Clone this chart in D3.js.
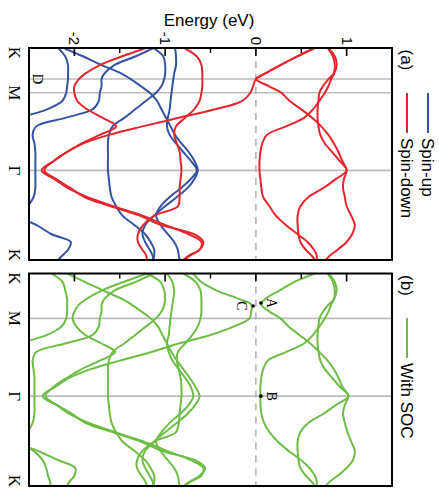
<!DOCTYPE html>
<html><head><meta charset="utf-8">
<script src="https://cdn.jsdelivr.net/npm/d3@7/dist/d3.min.js"></script>
<style>body{margin:0;background:#fff}svg{display:block}</style>
</head><body>
<svg id="c" width="439" height="489"></svg>
<script>
// k path (K-M-Γ-K, path length units)
const kPoints = [0, 0.577, 1.577, 2.732];
const kLabels = ["K", "M", "Γ", "K"];
const kD = 0.40;
const energyTicks = [-2, -1, 0, 1];
const energyMinor = [-1.5, -0.5, 0.5];
const kGrid = [0, 0.11, 0.22, 0.33, 0.40, 0.49, 0.577, 0.68, 0.79, 0.90, 1.01, 1.12, 1.23, 1.34, 1.45, 1.577, 1.69, 1.80, 1.92, 2.04, 2.16, 2.28, 2.40, 2.50, 2.60, 2.67, 2.732];

// panel (a) spin-down bands (eV)
const spinDown = [
  [0.65,0.45,0.27,0.10,0.0,0.14,0.28,0.37,0.50,0.62,0.72,0.80,0.86,0.91,0.95,1.0,0.97,0.96,0.98,1.0,1.05,1.09,1.06,1.0,0.90,0.82,0.77],
  [0.79,0.85,0.87,0.86,0.83,0.80,0.76,0.70,0.63,0.53,0.33,0.12,0.07,0.05,0.04,0.04,0.05,0.06,0.08,0.15,0.22,0.33,0.46,0.57,0.64,0.67,0.67],
  [0.80,0.87,0.89,0.86,0.80,0.74,0.70,0.69,0.68,0.68,0.69,0.71,0.76,0.84,0.92,1.0,0.88,0.75,0.58,0.49,0.46,0.46,0.47,0.49,0.55,0.61,0.65],
  [0.65,0.45,0.27,0.10,0.0,-0.03,-0.06,-0.15,-0.45,-0.85,-1.25,-1.62,-1.90,-2.08,-2.22,-2.36,-2.22,-2.08,-1.86,-1.57,-1.25,-1.0,-0.74,-0.60,-0.62,-0.73,-0.80],
  [-1.21,-1.48,-1.72,-1.88,-1.95,-2.0,-2.0,-1.97,-1.86,-1.69,-1.54,-1.72,-1.92,-2.08,-2.22,-2.33,-2.20,-2.05,-1.89,-1.60,-1.28,-1.05,-0.68,-0.58,-0.62,-0.72,-0.79],
  [-0.79,-0.65,-0.60,-0.59,-0.59,-0.59,-0.60,-0.62,-0.68,-0.78,-0.88,-0.90,-0.87,-0.84,-0.83,-0.82,-0.83,-0.84,-0.84,-0.86,-1.12,-1.24,-1.30,-1.30,-1.25,-1.21,-1.20]
];
// panel (a) spin-up bands (eV)
const spinUp = [
  [-2.18,-2.10,-2.07,-2.07,-2.07,-2.08,-2.09,-2.13,-2.30,-2.60,-2.80,-2.90,-3.0,-3.0,-3.0,-3.0,-3.0,-3.0,-2.95,-2.85,-2.65,-2.42,-2.25,-2.04,-2.07,-2.13,-2.18],
  [-1.13,-1.33,-1.56,-1.67,-1.70,-1.70,-1.72,-1.73,-1.80,-2.10,-2.42,-2.46,-2.44,-2.43,-2.43,-2.43,-2.43,-2.43,-2.45,-2.52,-2.70,-2.80,-2.80,-2.70,-2.60,-2.55,-2.55],
  [-2.12,-1.90,-1.70,-1.48,-1.38,-1.27,-1.17,-1.09,-1.04,-0.99,-0.94,-0.89,-0.82,-0.74,-0.68,-0.64,-0.68,-0.75,-0.87,-1.0,-1.12,-1.22,-1.25,-1.22,-1.17,-1.14,-1.13],
  [-1.13,-1.02,-1.0,-1.0,-1.01,-1.04,-1.10,-1.21,-1.33,-1.45,-1.58,-1.62,-1.63,-1.63,-1.63,-1.63,-1.62,-1.61,-1.59,-1.54,-1.47,-1.34,-1.22,-1.16,-1.12,-1.12,-1.13],
  [-0.89,-0.88,-0.88,-0.90,-0.91,-0.92,-0.93,-0.94,-0.95,-0.97,-0.98,-0.95,-0.88,-0.80,-0.72,-0.65,-0.72,-0.82,-0.95,-1.05,-1.10,-1.05,-0.97,-0.90,-0.86,-0.85,-0.84]
];
// panel (b) with SOC (eV)
const withSOC = [
  [0.65,0.42,0.26,0.10,0.06,0.15,0.27,0.36,0.48,0.60,0.70,0.79,0.86,0.91,0.95,1.02,0.98,0.96,0.98,1.01,1.05,1.09,1.07,1.0,0.90,0.82,0.77],
  [0.79,0.85,0.87,0.86,0.83,0.80,0.76,0.70,0.63,0.53,0.33,0.13,0.08,0.06,0.05,0.05,0.05,0.06,0.09,0.15,0.24,0.36,0.50,0.59,0.65,0.67,0.67],
  [0.80,0.87,0.89,0.86,0.80,0.74,0.70,0.69,0.68,0.68,0.69,0.71,0.76,0.84,0.92,1.02,0.88,0.75,0.58,0.49,0.46,0.46,0.47,0.49,0.55,0.61,0.65],
  [-0.69,-0.60,-0.43,-0.18,-0.05,-0.05,-0.07,-0.24,-0.50,-0.85,-1.15,-1.50,-1.82,-2.05,-2.20,-2.35,-2.20,-2.06,-1.84,-1.55,-1.24,-0.98,-0.72,-0.58,-0.60,-0.71,-0.78],
  [-1.20,-1.46,-1.70,-1.87,-1.95,-2.0,-2.02,-1.98,-1.88,-1.70,-1.55,-1.72,-1.92,-2.08,-2.22,-2.32,-2.19,-2.03,-1.88,-1.58,-1.27,-1.04,-0.67,-0.56,-0.62,-0.72,-0.80],
  [-0.80,-0.66,-0.61,-0.60,-0.60,-0.60,-0.61,-0.64,-0.70,-0.78,-0.86,-0.87,-0.85,-0.83,-0.82,-0.82,-0.83,-0.84,-0.85,-0.88,-1.12,-1.25,-1.31,-1.31,-1.26,-1.22,-1.20],
  [-2.25,-2.13,-2.10,-2.08,-2.08,-2.08,-2.09,-2.14,-2.30,-2.60,-2.80,-2.90,-3.0,-3.0,-3.0,-3.0,-3.0,-3.0,-2.95,-2.85,-2.65,-2.45,-2.35,-2.31,-2.29,-2.27,-2.26],
  [-1.13,-1.33,-1.56,-1.67,-1.70,-1.70,-1.72,-1.73,-1.80,-2.10,-2.42,-2.46,-2.45,-2.44,-2.44,-2.44,-2.44,-2.44,-2.46,-2.52,-2.62,-2.40,-2.18,-1.99,-2.0,-2.05,-2.08],
  [-2.08,-1.88,-1.68,-1.47,-1.37,-1.26,-1.16,-1.08,-1.03,-0.98,-0.93,-0.87,-0.80,-0.73,-0.67,-0.62,-0.67,-0.75,-0.87,-1.0,-1.12,-1.22,-1.25,-1.22,-1.17,-1.14,-1.13],
  [-1.20,-1.05,-1.01,-1.0,-1.01,-1.04,-1.10,-1.21,-1.33,-1.45,-1.58,-1.62,-1.63,-1.63,-1.63,-1.63,-1.62,-1.61,-1.59,-1.54,-1.47,-1.34,-1.22,-1.16,-1.12,-1.12,-1.13],
  [-0.98,-0.92,-0.90,-0.91,-0.92,-0.93,-0.94,-0.95,-0.96,-0.98,-0.96,-0.92,-0.85,-0.78,-0.72,-0.69,-0.74,-0.83,-0.95,-1.04,-1.10,-1.05,-0.97,-0.90,-0.86,-0.85,-0.84]
];
const markers = [
  {label: "A", k: 0.379, e: 0.055},
  {label: "C", k: 0.417, e: -0.03},
  {label: "B", k: 1.577, e: 0.055}
];

const RED = "#e3262e", BLUE = "#3553a3", GREEN = "#6dbd45", GRID = "#bdbdbd";
const svg = d3.select("#c");
const x = d3.scaleLinear().domain([-2.5, 1.5]).range([29, 392]);

const panels = [
  {id: "a", y0: 48, y1: 260, sets: [{data: spinUp, color: BLUE}, {data: spinDown, color: RED}], showD: true, tickLabels: true},
  {id: "b", y0: 273.5, y1: 486, sets: [{data: withSOC, color: GREEN}], showD: false, tickLabels: false}
];

const defs = svg.append("defs");

panels.forEach(p => {
  const y = d3.scaleLinear().domain([0, 2.732]).range([p.y0, p.y1]);
  const g = svg.append("g");
  defs.append("clipPath").attr("id", "clip" + p.id)
    .append("rect").attr("x", x(-2.5)).attr("y", p.y0).attr("width", x(1.5) - x(-2.5)).attr("height", p.y1 - p.y0);

  const hs = [kPoints[1], kPoints[2]].concat(p.showD ? [kD] : []);
  g.selectAll(".hs").data(hs).join("line")
    .attr("x1", x(-2.5)).attr("x2", x(1.5))
    .attr("y1", d => y(d)).attr("y2", d => y(d))
    .attr("stroke", GRID).attr("stroke-width", 1.6);
  g.append("line").attr("x1", x(0)).attr("x2", x(0)).attr("y1", p.y0).attr("y2", p.y1)
    .attr("stroke", "#b3b3b3").attr("stroke-width", 1.6).attr("stroke-dasharray", "7,6");

  const line = d3.line().x(d => x(d[1])).y(d => y(d[0])).curve(d3.curveCatmullRom.alpha(0.5));
  const bg = g.append("g").attr("clip-path", `url(#clip${p.id})`);
  p.sets.forEach(s => {
    bg.selectAll(null).data(s.data).join("path")
      .attr("d", band => line(kGrid.map((k, i) => [k, band[i]])))
      .attr("fill", "none").attr("stroke", s.color).attr("stroke-width", 2);
  });

  g.append("rect").attr("x", x(-2.5)).attr("y", p.y0).attr("width", x(1.5) - x(-2.5)).attr("height", p.y1 - p.y0)
    .attr("fill", "none").attr("stroke", "#000").attr("stroke-width", 2);
  g.selectAll(".mj").data(energyTicks).join("line")
    .attr("x1", d => x(d)).attr("x2", d => x(d)).attr("y1", p.y0).attr("y2", p.y0 + 8)
    .attr("stroke", "#000").attr("stroke-width", 1.6);
  g.selectAll(".mn").data(energyMinor).join("line")
    .attr("x1", d => x(d)).attr("x2", d => x(d)).attr("y1", p.y0).attr("y2", p.y0 + 5)
    .attr("stroke", "#000").attr("stroke-width", 1.4);
  if (p.tickLabels) {
    g.selectAll(".tl").data(energyTicks).join("text")
      .attr("transform", d => `translate(${x(d) - 5},${p.y0 - 3}) rotate(90)`)
      .attr("text-anchor", "end")
      .attr("font-family", "Liberation Sans, Arial, sans-serif").attr("font-size", 15)
      .text(d => d);
  }
  kPoints.forEach((k, i) => {
    let yy = y(k);
    if (i === 0) yy += 5;
    if (i === kPoints.length - 1) yy -= 5;
    g.append("text").attr("transform", `translate(${x(-2.5) - 20},${yy}) rotate(90)`)
      .attr("text-anchor", "middle")
      .attr("font-family", "Liberation Serif, Times New Roman, serif").attr("font-size", 17)
      .text(kLabels[i]);
  });
  if (p.showD) {
    g.append("text").attr("transform", `translate(${x(-2.5) + 4},${y(kD)}) rotate(90)`)
      .attr("text-anchor", "middle")
      .attr("font-family", "Liberation Serif, Times New Roman, serif").attr("font-size", 15)
      .text("D");
  } else {
    markers.forEach(m => {
      g.append("circle").attr("cx", x(m.e)).attr("cy", y(m.k)).attr("r", 1.8).attr("fill", "#000");
      const off = m.label === "C" ? -16 : 6;
      g.append("text").attr("transform", `translate(${x(m.e) + off},${y(m.k)}) rotate(90)`)
        .attr("text-anchor", "middle")
        .attr("font-family", "Liberation Serif, Times New Roman, serif").attr("font-size", 14)
        .text(m.label);
    });
  }
  g.append("text").attr("transform", `translate(${401},${p.y0 + 12}) rotate(90)`)
    .attr("text-anchor", "middle")
    .attr("font-family", "Liberation Sans, Arial, sans-serif").attr("font-size", 17)
    .text("(" + p.id + ")");
});

const legend = [
  {x: 428, y: 93, color: BLUE, text: "Spin-up"},
  {x: 407, y: 93, color: RED, text: "Spin-down"},
  {x: 407, y: 318, color: GREEN, text: "With SOC"}
];
legend.forEach(l => {
  svg.append("line").attr("x1", l.x).attr("x2", l.x).attr("y1", l.y).attr("y2", l.y + 40)
    .attr("stroke", l.color).attr("stroke-width", 2);
  svg.append("text").attr("transform", `translate(${l.x - 6},${l.y + 45}) rotate(90)`)
    .attr("font-family", "Liberation Sans, Arial, sans-serif").attr("font-size", 17)
    .text(l.text);
});

svg.append("text").attr("x", 209).attr("y", 26).attr("text-anchor", "middle")
  .attr("font-family", "Liberation Sans, Arial, sans-serif").attr("font-size", 17)
  .text("Energy (eV)");
</script>
</body></html>
